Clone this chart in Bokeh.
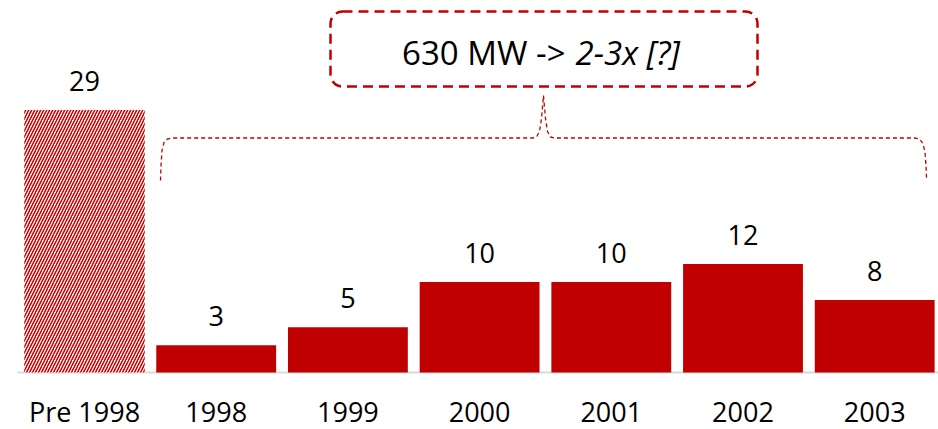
from bokeh.plotting import figure
from bokeh.models import Range1d, BoxAnnotation
from bokeh.core.properties import value
from bokeh.embed import file_html
from bokeh.resources import INLINE

# ---- data ----
categories = ["Pre 1998", "1998", "1999", "2000", "2001", "2002", "2003"]
capacity = [29, 3, 5, 10, 10, 12, 8]
note_plain = "630 MW ->"
note_italic = "2-3x [?]"

RED = "#C00000"
FONT = value("Open Sans")

# layout helpers (page pixel -> data), used only for annotations
PX_X = 131.7   # px per category step
PX_Y = 9.05    # px per unit
X0 = 84        # page x of first category centre
Y0 = 372       # page y of baseline
W, H = 938, 429
TXT = 10       # renderer places alphabetic baselines a bit low; compensate


def dx(px):
    return (px - X0) / PX_X


def dy(py):
    return (Y0 - py) / PX_Y


xs = list(range(len(categories)))

p = figure(width=W, height=H, min_border=0,
           x_range=Range1d(dx(0), dx(W)), y_range=Range1d(dy(H), dy(0)),
           x_axis_location=None, y_axis_location=None,
           toolbar_location=None, output_backend="svg")
p.xgrid.visible = False
p.ygrid.visible = False
p.outline_line_color = None
p.background_fill_color = "white"

# baseline
p.line(x=[dx(17), dx(938)], y=[0, 0], line_color="#D9D9D9", line_width=2)

# hatched historical bar
p.vbar(x=xs[:1], top=capacity[:1], width=0.915, bottom=0,
       fill_color="white", line_color=None,
       hatch_pattern="/", hatch_color=RED, hatch_scale=6, hatch_weight=1.5)
# yearly bars
p.vbar(x=xs[1:], top=capacity[1:], width=0.91, bottom=0,
       fill_color=RED, line_color=None)

# value labels
pad = (19 + TXT) / PX_Y
p.text(x=xs, y=[v + pad for v in capacity], text=[str(v) for v in capacity],
       text_align="center", text_baseline="alphabetic",
       text_font=FONT, text_font_size="27px", text_color="#000000")

# category labels
p.text(x=xs, y=[dy(421 - TXT)] * len(xs), text=categories,
       text_align="center", text_baseline="alphabetic",
       text_font=FONT, text_font_size="27px", text_color="#000000")

# callout box
box = BoxAnnotation(left=dx(330), right=dx(757), top=dy(11), bottom=dy(86),
                    fill_alpha=0, line_color=RED, line_alpha=1.0, line_width=2.5,
                    line_dash="10 6", border_radius=12)
p.add_layout(box)

p.text(x=[dx(565)], y=[dy(62 - TXT)], text=[note_plain],
       text_align="right", text_baseline="alphabetic",
       text_font=FONT, text_font_size="33px", text_color="#000000")
p.text(x=[dx(575)], y=[dy(62 - TXT)], text=[note_italic],
       text_align="left", text_baseline="alphabetic",
       text_font=FONT, text_font_size="33px", text_font_style="italic",
       text_color="#000000")

# brace
brace_px = [(160, 180), (160.5, 165), (161.5, 150), (163.5, 142), (167, 138.5), (172, 137.5),
            (532, 137.5), (536, 136.5), (539, 131), (541, 118), (543, 95),
            (545, 118), (547, 131), (550, 136.5), (554, 137.5),
            (914, 137.5), (919, 138.5), (922.5, 143), (924.5, 152), (925.5, 165), (926, 178)]
p.line(x=[dx(a) for a, b in brace_px], y=[dy(b) for a, b in brace_px],
       line_color=RED, line_width=1.3, line_dash="4 3", line_join="round")

open("out.html", "w").write(file_html(p, INLINE))
